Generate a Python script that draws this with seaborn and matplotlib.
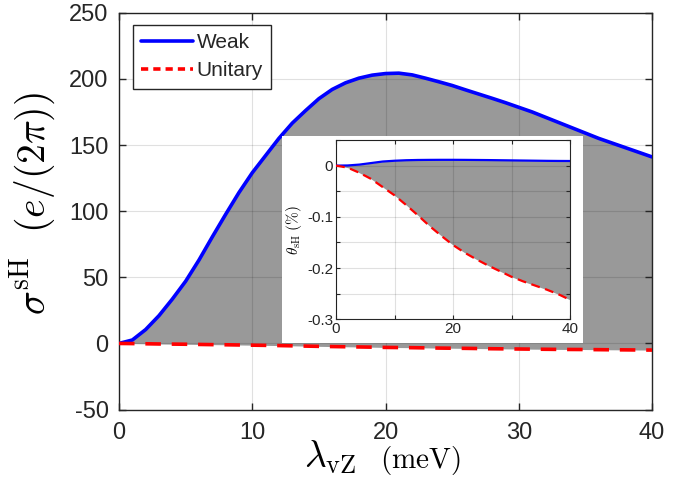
import numpy as np
import pandas as pd
import matplotlib
matplotlib.use("Agg")
import matplotlib.pyplot as plt
import seaborn as sns

# ---- data ----
lam_main = [0, 1, 2, 3, 4, 5, 6, 7, 8, 9, 10, 11, 12, 13, 14, 15, 16, 17, 18, 19, 20,
            21, 22, 23, 24, 25, 26, 27, 28, 29, 30, 31, 32, 33, 34, 35, 36, 37, 38, 39, 40]
sigma_weak = [0, 2.6, 10.5, 21, 33.5, 47, 63, 80.5, 97.5, 114, 129, 142, 155, 166.5, 176, 185,
              192, 197, 200.5, 202.8, 204, 204.3, 203, 200.5, 197.8, 195, 191.7, 188.5,
              185.3, 182, 178.5, 175, 171, 167, 163, 159, 155, 151.5, 148, 144.5, 141]
sigma_unitary = [0, -0.1, -0.25, -0.4, -0.5, -0.6, -0.75, -0.9, -1.0, -1.15, -1.3, -1.45,
                 -1.6, -1.8, -2.0, -2.2, -2.35, -2.5, -2.65, -2.8, -3.0, -3.1, -3.2, -3.35,
                 -3.5, -3.6, -3.7, -3.85, -4.0, -4.1, -4.2, -4.3, -4.4, -4.5, -4.55, -4.6,
                 -4.7, -4.8, -4.85, -4.95, -5.0]

lam_inset = [0, 2, 4, 6, 8, 10, 12, 14, 16, 18, 20, 22, 24, 26, 28, 30, 32, 34, 36, 38, 40]
theta_weak = [0, 0.0003, 0.002, 0.005, 0.008, 0.0095, 0.0105, 0.011, 0.0112, 0.0113, 0.0113,
              0.0112, 0.011, 0.0108, 0.0105, 0.0102, 0.0099, 0.0096, 0.0093, 0.0091, 0.009]
theta_unitary = [0, -0.004, -0.014, -0.026, -0.042, -0.058, -0.077, -0.097, -0.118, -0.137,
                 -0.155, -0.170, -0.183, -0.195, -0.206, -0.217, -0.226, -0.234, -0.242,
                 -0.251, -0.262]

main_xticks = [0, 10, 20, 30, 40]
main_yticks = [-50, 0, 50, 100, 150, 200, 250]
inset_xticks = [0, 10, 20, 30, 40]
inset_xlabels = ["0", "", "20", "", "40"]
inset_yticks = [-0.3, -0.25, -0.2, -0.15, -0.1, -0.05, 0, 0.05]
inset_ylabels = ["-0.3", "", "-0.2", "", "-0.1", "", "0", ""]

# ---- style ----
sns.set_style("ticks")
plt.rcParams["font.family"] = ["Liberation Sans", "DejaVu Sans"]
plt.rcParams["mathtext.fontset"] = "cm"
plt.rcParams["axes.unicode_minus"] = False

DARK = "#262626"
FILL = "#999999"
BLUE = "#0000ff"
RED = "#ff0000"

W, H = 693, 500
fig = plt.figure(figsize=(6.93, 5.0), dpi=100)
ax = fig.add_axes([119 / W, 1 - 409.6 / H, (652 - 119) / W, (409.6 - 12.7) / H])

dfm = pd.DataFrame({"x": lam_main, "weak": sigma_weak, "unitary": sigma_unitary})
ax.fill_between(dfm["x"], dfm["unitary"], dfm["weak"], color=FILL, lw=0, zorder=1)
sns.lineplot(data=dfm, x="x", y="weak", ax=ax, color=BLUE, lw=2.6, label="Weak", zorder=4)
sns.lineplot(data=dfm, x="x", y="unitary", ax=ax, color=RED, lw=2.6, label="Unitary",
             zorder=4)
ax.lines[1].set_linestyle((0, (4.3, 3.0)))

ax.set_xlim(0, 40)
ax.set_ylim(-50, 250)
ax.set_xticks(main_xticks)
ax.set_yticks(main_yticks)
ax.set_axisbelow(False)
ax.grid(True, color="black", alpha=0.12, lw=0.8)
ax.tick_params(direction="in", top=True, right=True, length=5, width=1, colors=DARK,
               labelsize=17, labelcolor=DARK)
ax.tick_params(axis="x", pad=9)
ax.tick_params(axis="y", pad=7.5)
for s in ax.spines.values():
    s.set_color(DARK)
    s.set_linewidth(1.0)

# x label: large lambda_vZ, smaller (meV)
ax.set_xlabel("")
fig.text(356 / W, 1 - 468 / H, r"$\lambda_{\rm vZ}$", fontsize=27, ha="right",
         va="baseline", color="black")
fig.text(380 / W, 1 - 468 / H, r"$({\rm meV})$", fontsize=21, ha="left",
         va="baseline", color="black")

ax.set_ylabel(r"$\sigma^{\rm sH}\ \ (e/(2\pi))$", fontsize=28.5, color="black")
ax.yaxis.set_label_coords(-0.114, 0.52)

leg = ax.legend(loc="upper left", bbox_to_anchor=(14 / 533, 1 - 12 / 397), fontsize=15,
                frameon=True, fancybox=False, handlelength=2.5, handletextpad=0.15,
                borderpad=0.4, labelspacing=0.45, borderaxespad=0.0)
leg.get_frame().set_edgecolor(DARK)
leg.get_frame().set_linewidth(1.0)
leg.get_frame().set_facecolor("white")
leg.get_frame().set_alpha(1)
leg.get_lines()[1].set_linestyle((0, (2.0, 1.4)))

# white background patch behind the inset
bg = fig.add_axes([282 / W, 1 - 343 / H, (583 - 282) / W, (343 - 136) / H])
bg.set_facecolor("white")
bg.set_xticks([])
bg.set_yticks([])
for s in bg.spines.values():
    s.set_visible(False)

# inset
ins = fig.add_axes([336 / W, 1 - 319.3 / H, (570 - 336) / W, (319.3 - 140) / H])
dfi = pd.DataFrame({"x": lam_inset, "weak": theta_weak, "unitary": theta_unitary})
ins.fill_between(dfi["x"], dfi["unitary"], dfi["weak"], color=FILL, lw=0, zorder=1)
sns.lineplot(data=dfi, x="x", y="weak", ax=ins, color=BLUE, lw=1.6, zorder=4)
sns.lineplot(data=dfi, x="x", y="unitary", ax=ins, color=RED, lw=1.6, zorder=4)
ins.lines[1].set_linestyle((0, (4, 2.5)))
ins.set_xlim(0, 40)
ins.set_ylim(-0.3, 0.05)
ins.set_xticks(inset_xticks)
ins.set_xticklabels(inset_xlabels)
ins.set_yticks(inset_yticks)
ins.set_yticklabels(inset_ylabels)
ins.set_axisbelow(False)
ins.grid(True, color="black", alpha=0.12, lw=0.8)
ins.tick_params(direction="in", top=True, right=True, length=3, width=0.8, colors=DARK,
                labelsize=11, labelcolor=DARK, pad=2)
for s in ins.spines.values():
    s.set_color(DARK)
    s.set_linewidth(0.8)
ins.set_xlabel("")
ins.set_ylabel(r"$\theta_{\rm sH}\ (\%)$", fontsize=11, color="black", labelpad=2)

fig.savefig("out.png", dpi=100)
